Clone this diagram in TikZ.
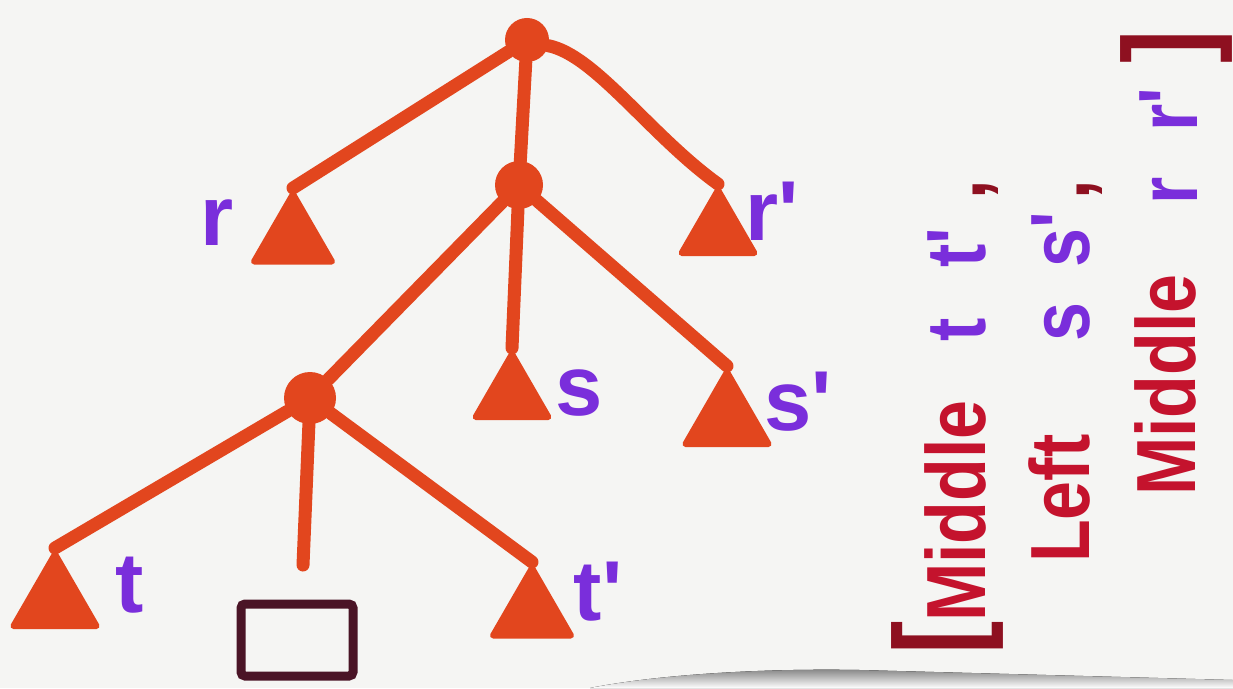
\documentclass[tikz,border=0pt]{standalone}
\usepackage{fontspec}
\setmainfont{Liberation Sans}
\usetikzlibrary{shapes.geometric}
\definecolor{paper}{HTML}{F5F5F3}
\definecolor{shade}{HTML}{E2E2E0}
\definecolor{tree}{HTML}{E2461E}
\definecolor{purp}{HTML}{7A2EDB}
\definecolor{redtxt}{HTML}{C4132D}
\definecolor{darkred}{HTML}{8E1020}
\definecolor{maroon}{HTML}{4A1426}
\newcommand\tallx[1]{\scalebox{1}[1.2]{#1}}
\begin{document}
\begin{tikzpicture}[x=1pt,y=-1pt,
  inner/.style={circle, fill=tree, draw=tree, line width=2pt, inner sep=0pt, minimum size=#1},
  inner/.default=42pt,
  leaf/.style={regular polygon, regular polygon sides=3, fill=tree, draw=tree, line width=6pt, line join=round, inner sep=0pt, minimum size=#1},
  leaf/.default=90pt,
  branch/.style={draw=tree, line width=13pt, line cap=round},
  lab/.style={text=purp, font=\fontsize{85}{85}\selectfont\bfseries, inner sep=0pt, anchor=base},
  col/.style={rotate=90, anchor=base west, inner sep=0pt, font=\fontsize{70}{70}\selectfont\bfseries},
  word/.style={col, text=redtxt},
  var/.style={col, text=purp},
  punct/.style={col, text=darkred},
  brack/.style={col, text=darkred, font=\fontsize{100}{100}\selectfont\bfseries},
  boxstyle/.style={draw=maroon, line width=9pt, rounded corners=4pt, minimum width=112pt, minimum height=72pt, inner sep=0pt}
]
\useasboundingbox (0,0) rectangle (1233,688);
\fill[paper] (0,0) rectangle (1233,688);
\fill[shade] (590,688) .. controls (650,676) and (750,668) .. (860,670) -- (1233,680) -- (1233,688) -- cycle;

% tree nodes
\node[inner=42pt] (root) at (527,40) {};
\node[inner=46pt] (n2) at (519,185) {};
\node[inner=50pt] (n3) at (310,398) {};
\node[leaf] (r) at (293,239) {};
\node[leaf=84pt] (rp) at (718,232) {};
\node[leaf=84pt] (s) at (512,396) {};
\node[leaf=96pt] (sp) at (727,420) {};
\node[leaf=96pt] (t) at (55,602) {};
\node[leaf] (tp) at (532,613) {};
\coordinate (stub) at (303,565);
\node[boxstyle] (box) at (297,640) {};

% branches
\draw[branch] (root) -- (r.corner 1);
\draw[branch] (root) -- (n2);
\draw[branch] (root.-15) .. controls (595,55) and (650,135) .. (rp.corner 1);
\draw[branch] (n2) -- (n3);
\draw[branch] (n2) -- (s.corner 1);
\draw[branch] (n2) -- (sp.corner 1);
\draw[branch] (n3) -- (t.corner 1);
\draw[branch] (n3) -- (stub);
\draw[branch] (n3) -- (tp.corner 1);

% leaf labels
\node[lab] (lr) at (217,245) {r};
\node[lab] (lrp) at (772,240) {r\textquotesingle};
\node[lab] (ls) at (579,415) {s};
\node[lab] (lsp) at (798,430) {s\textquotesingle};
\node[lab] (lt) at (130,612) {t};
\node[lab] (ltp) at (598,620) {t\textquotesingle};

% rotated list
\node[brack] (ob) at (978,655) {\tallx{[}};
\node[word] (m1) at (985,622) {\tallx{Middle}};
\node[var] (t1) at (985,342) {\tallx{t}};
\node[var] (t2) at (985,268) {\tallx{t\textquotesingle}};
\node[punct] (c1) at (985,200) {\tallx{,}};
\node[word] (l2) at (1089,563) {\tallx{Left}};
\node[var] (s1) at (1089,342) {\tallx{s}};
\node[var] (s2) at (1089,268) {\tallx{s\textquotesingle}};
\node[punct] (c2) at (1089,200) {\tallx{,}};
\node[word] (m3) at (1195,496) {\tallx{Middle}};
\node[var] (r1) at (1197,205) {\tallx{r}};
\node[var] (r2) at (1197,132) {\tallx{r\textquotesingle}};
\node[brack] (cb) at (1207,64) {\tallx{]}};
\end{tikzpicture}
\end{document}
